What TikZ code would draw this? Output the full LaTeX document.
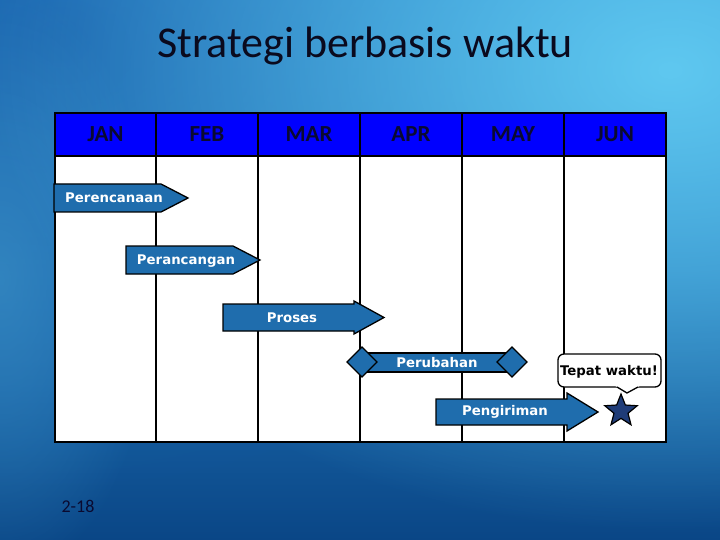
\documentclass[tikz,border=0pt]{standalone}
\usepackage{fontspec}
\setmainfont{Carlito}
\newfontfamily\barfont{DejaVu Sans}
\usetikzlibrary{shapes.geometric,fadings}
\definecolor{bgtop}{HTML}{2A88CE}
\definecolor{bgmid}{HTML}{2074B8}
\definecolor{bgbot}{HTML}{0A4686}
\definecolor{glow}{HTML}{62CCF2}
\definecolor{shadowblue}{HTML}{1A62AC}
\definecolor{sideglow}{HTML}{3A8EC4}
\definecolor{hdrblue}{HTML}{0000FF}
\definecolor{monthtxt}{HTML}{0A0A30}
\definecolor{barblue}{HTML}{1F6DAD}
\definecolor{starblue}{HTML}{1F3C78}
\definecolor{titletxt}{HTML}{0A0A1E}
\tikzfading[name=softglow, inner color=transparent!0, outer color=transparent!100]
\tikzset{
  grid/.style={draw=black, line width=1.6pt},
  month/.style={font=\bfseries\fontsize{23}{25}\selectfont, text=monthtxt, inner sep=0pt},
  barshape/.style={fill=barblue, draw=black, line width=1.3pt, line join=miter},
  bartext/.style={font=\barfont\bfseries\fontsize{13.3}{15}\selectfont, text=white, inner sep=0pt},
  markshape/.style={fill=barblue, draw=black, line width=1.3pt},
}
\begin{document}
\begin{tikzpicture}[x=1pt,y=-1pt]
\useasboundingbox (0,0) rectangle (720,540);
% background
\shade[top color=bgtop, bottom color=bgbot, middle color=bgmid] (0,0) rectangle (720,540);
\fill[shadowblue, path fading=softglow, fill opacity=0.9] (60,40) ellipse [x radius=620, y radius=460];
\fill[sideglow, path fading=softglow, fill opacity=0.7] (0,280) ellipse [x radius=160, y radius=300];
\fill[glow, path fading=softglow, fill opacity=0.95] (670,70) ellipse [x radius=680, y radius=460];
% title
\node[font=\fontsize{44}{48}\selectfont, text=titletxt, inner sep=0pt] (title) at (365,46) {Strategi berbasis waktu};
% table
\fill[white] (55,156) rectangle (666,442);
\fill[hdrblue] (55,113) rectangle (666,156);
\foreach \x in {156,258,360,462,564} \draw[grid] (\x,113) -- (\x,442);
\draw[grid] (55,156) -- (666,156);
\draw[grid] (55,113) rectangle (666,442);
\node[month] (jan) at (105.5,134) {JAN};
\node[month] (feb) at (207,134) {FEB};
\node[month] (mar) at (309,134) {MAR};
\node[month] (apr) at (411,134) {APR};
\node[month] (may) at (513,134) {MAY};
\node[month] (jun) at (615,134) {JUN};
% bars
\draw[barshape] (54,184) -- (161,184) -- (188,198) -- (161,212) -- (54,212) -- cycle;
\node[bartext] (perencanaan) at (114,198) {Perencanaan};
\draw[barshape] (126,246) -- (233,246) -- (260,260) -- (233,274) -- (126,274) -- cycle;
\node[bartext] (perancangan) at (186,261) {Perancangan};
\draw[barshape] (223,304) -- (354,304) -- (354,301) -- (384,317.5) -- (354,334) -- (354,331) -- (223,331) -- cycle;
\node[bartext] (proses) at (292,318) {Proses};
\draw[barshape] (367,353) rectangle (507,372);
\draw[markshape] (362,347) -- (377,362) -- (362,377) -- (347,362) -- cycle;
\draw[markshape] (512,347) -- (527,362) -- (512,377) -- (497,362) -- cycle;
\node[bartext] (perubahan) at (437,363) {Perubahan};
\draw[barshape] (436,399) -- (567,399) -- (567,393) -- (598,412) -- (567,431) -- (567,425) -- (436,425) -- cycle;
\node[bartext] (pengiriman) at (505,412) {Pengiriman};
% star
\node[star, star points=5, star point ratio=2.3, minimum size=34pt, inner sep=0pt, fill=starblue, draw=black, line width=1.2pt] (goal) at (621,411) {};
% callout
\draw[fill=white, draw=black, line width=1.3pt, rounded corners=6pt] (558,354) rectangle (661,387);
\fill[white] (615,385.8) -- (640,385.8) -- (627,392) -- cycle;
\draw[black, line width=1.3pt, line join=miter] (617,387) -- (627,393) -- (638,387);
\node[font=\barfont\bfseries\fontsize{13.3}{15}\selectfont, text=black, inner sep=0pt] (tepat) at (609,372) {Tepat waktu!};
% page number
\node[font=\fontsize{18}{20}\selectfont, text=monthtxt, inner sep=0pt] (page) at (78,506) {2-18};
\end{tikzpicture}
\end{document}
